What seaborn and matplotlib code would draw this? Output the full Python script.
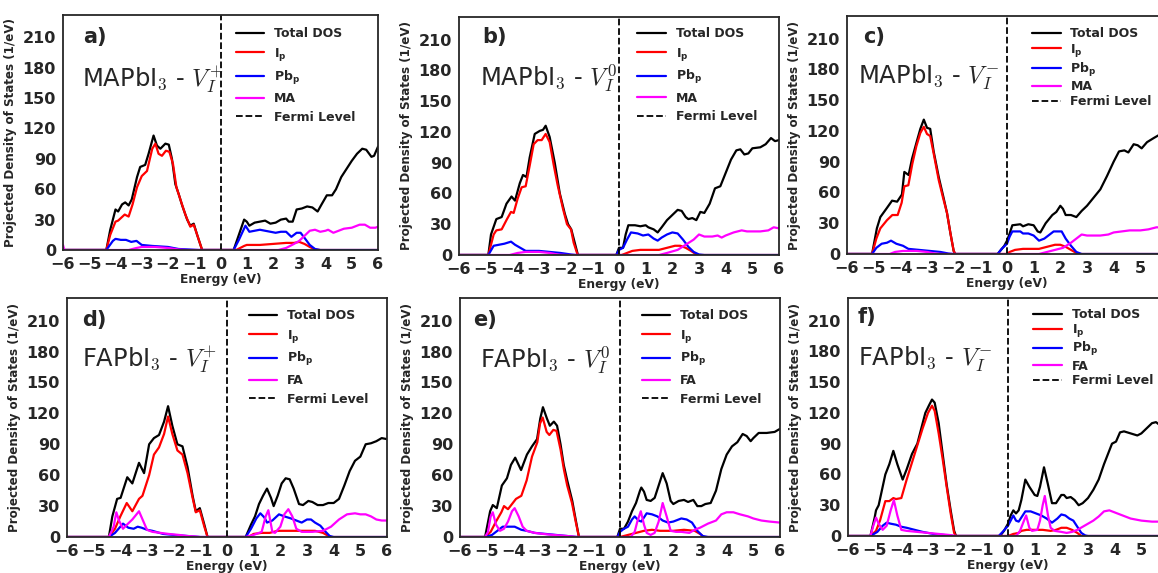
import matplotlib
matplotlib.use("Agg")
import matplotlib.pyplot as plt
import seaborn as sns

sns.set_style("ticks")
plt.rcParams['font.family'] = ['DejaVu Sans']
plt.rcParams['font.weight'] = 'bold'
plt.rcParams['axes.labelweight'] = 'bold'

# ---------------- data (energy eV, DOS 1/eV) ----------------
A_TOTAL = [(-6,0),(-4.35,0),(-4.2,20),(-4.0,40),(-3.9,38),(-3.75,45),(-3.63,47),(-3.5,44),(-3.38,50),(-3.18,72),(-3.06,82),(-2.87,84),(-2.74,95),(-2.55,113),(-2.42,103),(-2.29,100),(-2.1,105),(-1.97,104),(-1.85,90),(-1.72,65),(-1.59,55),(-1.46,44),(-1.27,30),(-1.15,24),(-1.02,26),(-0.89,15),(-0.7,0),(0.5,0),(0.7,15),(0.9,30),(1.0,28),(1.1,24),(1.3,27),(1.5,28),(1.7,29),(1.9,26),(2.1,27),(2.3,30),(2.5,31),(2.6,28),(2.75,28),(2.9,40),(3.1,41),(3.3,43),(3.5,42),(3.7,38),(3.85,45),(4.05,54),(4.25,54),(4.4,60),(4.6,72),(4.8,80),(5.0,88),(5.2,95),(5.4,100),(5.55,99),(5.75,92),(5.85,93),(6.0,102)]
A_IP = [(-6,0),(-4.35,0),(-4.2,15),(-4.0,28),(-3.9,29),(-3.65,35),(-3.5,33),(-3.35,45),(-3.18,62),(-3.0,73),(-2.8,78),(-2.6,100),(-2.48,105),(-2.36,95),(-2.23,93),(-2.08,98),(-1.95,97),(-1.81,85),(-1.68,62),(-1.53,50),(-1.34,35),(-1.15,23),(-1.02,25),(-0.89,15),(-0.7,0),(0.6,0),(0.9,4),(1.0,5),(1.5,5),(2.0,6),(2.5,7),(2.8,7),(3.0,8),(3.2,6),(3.4,3),(3.6,0.5),(3.8,0),(6,0)]
A_PB = [(-6,0),(-4.35,0),(-4.1,9),(-4.0,11),(-3.8,10),(-3.6,10),(-3.4,8),(-3.2,9),(-3.0,5),(-2.6,4),(-2.0,3),(-1.6,1),(-1.2,0.5),(-0.8,0),(0.5,0),(0.7,10),(0.95,24),(1.1,18),(1.3,19),(1.5,20),(1.7,19),(1.9,18),(2.1,17),(2.3,18),(2.5,18),(2.7,13),(2.9,17),(3.05,17),(3.2,12),(3.4,5),(3.6,1),(3.8,0),(6,0)]
A_MOL = [(-6,5),(-5.95,0),(-3.5,0),(-3.2,2),(-3.0,3),(-2.5,3),(-2.0,2),(-1.6,0.5),(-1.3,0),(2.2,0),(2.5,2),(2.8,6),(3.0,9),(3.2,14),(3.4,19),(3.6,20),(3.8,18),(4.0,19),(4.1,20),(4.3,17),(4.5,19),(4.7,21),(5.0,22),(5.3,25),(5.5,25),(5.7,22),(5.9,22),(6.0,23)]

B_TOTAL = [(-6,0),(-4.9,0),(-4.8,20),(-4.6,35),(-4.4,37),(-4.22,50),(-4.03,57),(-3.9,53),(-3.72,70),(-3.6,78),(-3.47,76),(-3.35,95),(-3.16,118),(-2.97,121),(-2.85,122),(-2.75,126),(-2.6,115),(-2.41,90),(-2.22,60),(-2.03,40),(-1.91,30),(-1.79,25),(-1.66,12),(-1.54,0),(-0.1,0),(0.0,7),(0.15,7),(0.25,20),(0.35,29),(0.6,29),(0.8,28),(1.0,29),(1.1,27),(1.3,25),(1.45,22),(1.6,27),(1.8,34),(2.0,39),(2.2,44),(2.35,43),(2.5,37),(2.6,35),(2.75,36),(2.9,34),(3.05,42),(3.2,41),(3.4,50),(3.6,65),(3.8,67),(4.0,80),(4.2,93),(4.4,102),(4.55,103),(4.7,98),(4.85,99),(5.0,104),(5.3,105),(5.5,108),(5.7,114),(5.85,111),(6.0,112)]
B_IP = [(-6,0),(-4.9,0),(-4.7,20),(-4.6,24),(-4.4,25),(-4.2,35),(-4.05,42),(-3.95,41),(-3.8,55),(-3.65,66),(-3.5,67),(-3.35,87),(-3.2,108),(-3.05,112),(-2.9,112),(-2.75,118),(-2.6,110),(-2.45,88),(-2.3,68),(-2.1,45),(-1.95,30),(-1.8,25),(-1.7,12),(-1.55,0),(0.1,0),(0.3,2),(0.5,4),(0.8,5),(1.2,5),(1.5,5),(1.8,7),(2.1,9),(2.3,9),(2.5,7),(2.7,4),(2.9,0.5),(3.0,0),(6,0)]
B_PB = [(-6,0),(-4.9,0),(-4.7,9),(-4.5,10),(-4.3,11),(-4.05,13),(-3.9,10),(-3.7,7),(-3.5,4),(-3.0,4),(-2.6,3),(-2.2,2),(-1.8,0.5),(-1.6,0),(-0.1,0),(0.0,5),(0.15,7),(0.3,15),(0.45,22),(0.7,21),(0.9,19),(1.1,20),(1.3,16),(1.45,14),(1.6,17),(1.8,20),(2.0,22),(2.2,21),(2.4,15),(2.6,8),(2.8,3),(3.0,0.5),(3.2,0),(6,0)]
B_MOL = [(-6,0),(-4.1,0),(-3.8,2),(-3.5,3),(-3.0,3),(-2.6,2),(-2.3,0.5),(-2.0,0),(1.5,0),(1.8,2),(2.2,5),(2.5,10),(2.8,15),(3.0,20),(3.2,18),(3.5,18),(3.7,19),(3.85,17),(4.0,19),(4.3,22),(4.6,24),(4.8,23),(5.0,23),(5.3,23),(5.6,24),(5.8,27),(6.0,26)]

C_TOTAL = [(-6,0),(-5.06,0),(-4.88,25),(-4.75,36),(-4.5,45),(-4.31,52),(-4.12,51),(-3.94,58),(-3.85,80),(-3.69,77),(-3.56,93),(-3.38,110),(-3.25,122),(-3.12,131),(-3.0,123),(-2.88,122),(-2.75,100),(-2.56,75),(-2.38,55),(-2.25,40),(-2.12,20),(-2.0,3),(-1.94,0),(-0.35,0),(-0.1,8),(0.0,13),(0.1,20),(0.2,28),(0.5,29),(0.6,27),(0.8,29),(1.0,28),(1.15,22),(1.25,21),(1.45,30),(1.7,38),(1.85,41),(2.0,47),(2.1,44),(2.2,38),(2.4,38),(2.6,36),(2.8,42),(3.0,47),(3.25,55),(3.5,63),(3.75,76),(4.0,90),(4.2,100),(4.4,101),(4.55,99),(4.75,107),(4.9,106),(5.05,103),(5.25,109),(5.5,113),(5.7,116),(5.85,118),(6.0,120)]
C_IP = [(-6,0),(-5.06,0),(-4.9,15),(-4.75,25),(-4.5,33),(-4.3,38),(-4.1,38),(-3.95,50),(-3.85,66),(-3.7,67),(-3.55,88),(-3.4,105),(-3.25,118),(-3.12,124),(-3.0,117),(-2.88,115),(-2.75,98),(-2.56,72),(-2.4,55),(-2.25,40),(-2.12,20),(-2.0,3),(-1.94,0),(0.0,0),(0.1,2),(0.3,4),(0.6,5),(1.0,5),(1.2,5),(1.5,7),(1.8,9),(2.0,9),(2.2,7),(2.4,4),(2.6,1),(2.7,0),(6,0)]
C_PB = [(-6,0),(-5.06,0),(-4.9,6),(-4.7,10),(-4.5,11),(-4.35,13),(-4.15,10),(-3.9,8),(-3.7,5),(-3.3,4),(-2.9,3),(-2.5,2),(-2.2,0.5),(-2.0,0),(-0.35,0),(-0.2,5),(0.0,10),(0.1,17),(0.2,22),(0.5,22),(0.6,20),(0.8,20),(1.0,18),(1.2,13),(1.4,15),(1.6,19),(1.75,22),(1.95,22),(2.05,22),(2.2,15),(2.4,8),(2.6,2),(2.8,0),(6,0)]
C_MOL = [(-6,0),(-4.4,0),(-4.2,2),(-3.9,3),(-3.4,3),(-3.0,2),(-2.7,0.5),(-2.4,0),(1.2,0),(1.5,2),(1.8,4),(2.1,6),(2.4,11),(2.6,15),(2.8,19),(3.0,18),(3.5,18),(3.8,19),(4.0,21),(4.3,22),(4.6,23),(5.0,23),(5.3,24),(5.6,26),(6.0,26)]

D_TOTAL = [(-6,0),(-4.43,0),(-4.3,20),(-4.12,37),(-3.99,38),(-3.74,58),(-3.55,52),(-3.3,72),(-3.11,62),(-2.92,90),(-2.74,96),(-2.55,99),(-2.36,112),(-2.21,127),(-2.05,108),(-1.86,90),(-1.67,88),(-1.48,68),(-1.29,40),(-1.17,25),(-1.02,28),(-0.85,12),(-0.73,0),(0.7,0),(0.9,12),(1.05,20),(1.2,32),(1.35,40),(1.5,47),(1.65,38),(1.75,30),(1.9,40),(2.05,52),(2.2,57),(2.35,56),(2.5,47),(2.7,32),(2.85,31),(3.05,35),(3.2,34),(3.4,31),(3.6,31),(3.8,33),(4.0,33),(4.2,37),(4.4,50),(4.6,64),(4.8,74),(5.0,78),(5.2,90),(5.4,91),(5.6,93),(5.8,96),(6.0,95)]
D_IP = [(-6,0),(-4.43,0),(-4.2,8),(-4.0,20),(-3.76,33),(-3.55,25),(-3.3,37),(-3.17,40),(-2.92,60),(-2.74,80),(-2.55,87),(-2.36,100),(-2.21,117),(-2.05,100),(-1.86,84),(-1.67,80),(-1.48,62),(-1.29,38),(-1.17,24),(-1.02,26),(-0.85,10),(-0.73,0),(0.8,0),(1.0,3),(1.3,4),(1.6,4),(1.9,6),(2.5,6),(3.0,6),(3.3,6),(3.6,4),(3.8,1),(3.9,0),(6,0)]
D_PB = [(-6,0),(-4.43,0),(-4.2,4),(-4.0,10),(-3.9,13),(-3.7,9),(-3.5,8),(-3.35,10),(-3.2,9),(-3.0,7),(-2.8,6),(-2.4,3),(-2.0,2),(-1.5,1),(-1.0,0),(0.7,0),(0.9,8),(1.1,18),(1.25,23),(1.4,19),(1.5,14),(1.7,16),(1.95,22),(2.15,20),(2.4,18),(2.6,16),(2.8,14),(3.0,17),(3.15,17),(3.3,14),(3.5,11),(3.7,5),(3.85,1),(4.0,0),(6,0)]
D_MOL = [(-6,0),(-4.43,0),(-4.25,10),(-4.15,24),(-4.05,16),(-3.9,8),(-3.75,12),(-3.55,17),(-3.3,25),(-3.15,16),(-3.0,7),(-2.8,5),(-2.5,4),(-2.2,3),(-1.8,2),(-1.5,1),(-1.2,0.5),(-1.0,0),(0.7,0),(1.0,2),(1.3,5),(1.45,20),(1.55,26),(1.7,5),(1.8,4),(2.0,10),(2.15,22),(2.3,27),(2.45,20),(2.6,8),(2.8,5),(3.2,5),(3.6,6),(3.9,10),(4.2,17),(4.5,22),(4.8,23),(5.0,22),(5.2,22),(5.4,20),(5.6,17),(5.8,16),(6.0,16)]

E_TOTAL = [(-6,0),(-5.06,0),(-4.87,25),(-4.77,31),(-4.62,28),(-4.43,50),(-4.24,57),(-4.09,70),(-3.93,77),(-3.71,65),(-3.49,80),(-3.3,88),(-3.11,95),(-2.99,115),(-2.89,126),(-2.74,115),(-2.63,108),(-2.48,112),(-2.36,108),(-2.23,90),(-2.11,70),(-1.98,55),(-1.79,35),(-1.67,18),(-1.54,0),(-0.1,0),(0.0,8),(0.15,8),(0.3,15),(0.45,25),(0.6,33),(0.75,45),(0.8,48),(0.9,44),(1.0,36),(1.15,35),(1.3,38),(1.45,50),(1.6,62),(1.75,52),(1.9,35),(2.0,32),(2.2,35),(2.4,36),(2.55,34),(2.75,36),(2.9,30),(3.05,30),(3.2,32),(3.4,33),(3.6,45),(3.8,66),(4.0,80),(4.2,88),(4.4,92),(4.6,100),(4.75,98),(4.9,93),(5.0,96),(5.2,101),(5.5,101),(5.8,102),(6.0,105)]
E_IP = [(-6,0),(-5.06,0),(-4.85,5),(-4.65,15),(-4.45,24),(-4.35,30),(-4.2,27),(-4.05,32),(-3.9,37),(-3.7,40),(-3.5,55),(-3.3,78),(-3.1,92),(-3.0,110),(-2.9,116),(-2.75,102),(-2.65,99),(-2.5,104),(-2.38,103),(-2.23,85),(-2.1,65),(-1.98,50),(-1.8,33),(-1.67,16),(-1.54,0),(0.0,0),(0.3,2),(0.6,4),(0.9,6),(1.2,7),(1.5,6),(2.0,6),(2.4,7),(2.8,6),(3.0,3),(3.15,0),(6,0)]
E_PB = [(-6,0),(-5.06,0),(-4.8,2),(-4.6,6),(-4.4,10),(-4.2,10),(-3.95,10),(-3.7,7),(-3.5,6),(-3.2,4),(-2.8,3),(-2.4,2),(-2.0,1),(-1.6,0),(-0.1,0),(0.0,5),(0.15,8),(0.3,10),(0.45,17),(0.55,20),(0.7,16),(0.8,15),(1.0,23),(1.2,22),(1.4,20),(1.6,16),(1.8,14),(2.0,15),(2.3,18),(2.5,17),(2.7,14),(2.9,6),(3.1,1),(3.3,0),(6,0)]
E_MOL = [(-6,0),(-5.06,0),(-4.95,5),(-4.85,20),(-4.77,24),(-4.65,12),(-4.5,6),(-4.35,8),(-4.2,15),(-4.05,25),(-3.95,28),(-3.8,20),(-3.65,10),(-3.5,6),(-3.2,4),(-2.9,3),(-2.5,2),(-2.0,1),(-1.6,0),(0.4,0),(0.55,5),(0.65,15),(0.78,25),(0.9,12),(1.0,4),(1.15,2),(1.3,4),(1.45,15),(1.6,33),(1.75,20),(1.9,6),(2.1,5),(2.3,5),(2.6,4),(2.8,7),(3.0,9),(3.3,13),(3.6,16),(3.8,22),(4.0,24),(4.25,24),(4.5,22),(4.8,20),(5.0,18),(5.3,16),(5.6,15),(6.0,14)]

F_TOTAL = [(-6,0),(-5.16,0),(-5.0,18),(-4.95,25),(-4.85,30),(-4.6,60),(-4.45,70),(-4.3,83),(-4.15,70),(-3.95,55),(-3.8,65),(-3.6,80),(-3.4,90),(-3.25,105),(-3.1,120),(-2.95,128),(-2.85,133),(-2.75,130),(-2.6,110),(-2.45,80),(-2.3,50),(-2.15,25),(-2.02,5),(-1.95,0),(-0.3,0),(-0.15,5),(0.0,12),(0.1,20),(0.2,25),(0.3,22),(0.4,25),(0.5,35),(0.65,55),(0.8,48),(1.0,40),(1.1,39),(1.2,48),(1.35,67),(1.5,50),(1.65,32),(1.8,32),(2.0,40),(2.1,40),(2.2,37),(2.35,38),(2.5,35),(2.65,30),(2.8,32),(3.0,37),(3.2,45),(3.4,55),(3.6,70),(3.75,80),(3.9,90),(4.05,92),(4.2,101),(4.35,102),(4.6,100),(4.85,98),(5.0,100),(5.2,105),(5.4,110),(5.55,111),(5.7,108),(6.0,112)]
F_IP = [(-6,0),(-5.16,0),(-4.95,5),(-4.8,15),(-4.6,34),(-4.45,34),(-4.3,37),(-4.2,36),(-4.0,37),(-3.8,55),(-3.5,80),(-3.2,105),(-3.0,120),(-2.85,127),(-2.75,122),(-2.6,100),(-2.45,75),(-2.3,48),(-2.15,22),(-2.02,3),(-1.95,0),(0.0,0),(0.2,2),(0.4,3),(0.5,5),(0.7,6),(1.0,6),(1.3,6),(1.6,5),(1.8,6),(2.0,8),(2.2,8),(2.4,6),(2.6,3),(2.75,0),(6,0)]
F_PB = [(-6,0),(-5.16,0),(-4.9,4),(-4.7,10),(-4.55,13),(-4.4,12),(-4.2,11),(-4.0,9),(-3.8,8),(-3.5,6),(-3.2,4),(-2.8,2),(-2.4,1),(-2.0,0),(-0.35,0),(-0.2,4),(0.0,10),(0.2,20),(0.3,15),(0.4,14),(0.55,20),(0.65,24),(0.85,24),(1.05,22),(1.25,20),(1.45,17),(1.65,13),(1.85,17),(2.0,21),(2.15,20),(2.3,17),(2.45,15),(2.6,9),(2.75,3),(2.9,0.5),(3.0,0),(6,0)]
F_MOL = [(-6,0),(-5.16,0),(-5.05,10),(-4.95,18),(-4.85,12),(-4.7,6),(-4.55,10),(-4.4,25),(-4.28,35),(-4.15,20),(-4.0,6),(-3.8,5),(-3.4,4),(-3.0,3),(-2.6,2),(-2.2,1),(-1.95,0),(0.3,0),(0.45,5),(0.6,15),(0.68,20),(0.8,8),(0.9,5),(1.1,6),(1.2,15),(1.3,30),(1.38,39),(1.5,20),(1.6,8),(1.75,5),(2.0,4),(2.2,3),(2.4,4),(2.6,6),(2.8,9),(3.0,12),(3.2,15),(3.4,19),(3.6,24),(3.8,25),(4.0,23),(4.3,20),(4.6,17),(5.0,15),(5.4,14),(5.8,14),(6.0,14)]

PANEL_LETTERS = ["a)", "b)", "c)", "d)", "e)", "f)"]
SYSTEMS = ["MAPbI", "MAPbI", "MAPbI", "FAPbI", "FAPbI", "FAPbI"]
CHARGES = ["+", "0", "-", "+", "0", "-"]
MOLECULES = ["MA", "MA", "MA", "FA", "FA", "FA"]
X_TICKS = [-6, -5, -4, -3, -2, -1, 0, 1, 2, 3, 4, 5, 6]
Y_TICKS = [0, 30, 60, 90, 120, 150, 180, 210]

# ---------------- layout ----------------
W, H = 1158, 573
fig = plt.figure(figsize=(W / 100, H / 100), dpi=100)

# axes boxes in pixels: left, right, top, bottom
boxes = [(63, 378, 15, 250), (459, 779, 17, 255), (847, 1167, 16, 254),
         (67, 387, 298, 537), (460, 780, 298, 537), (848, 1168, 298, 536)]
label_pos = [(0.063, 0.905), (0.072, 0.915), (0.05, 0.91), (0.047, 0.91), (0.04, 0.91), (0.03, 0.92)]
title_pos = [(0.06, 0.72), (0.066, 0.744), (0.034, 0.744), (0.047, 0.74), (0.063, 0.74), (0.031, 0.74)]
legend_anchor = [(0.52, 0.985), (0.53, 0.995), (0.55, 0.99), (0.54, 0.99), (0.54, 0.99), (0.55, 0.995)]
legend_space = [0.45, 0.45, 0.14, 0.45, 0.45, 0.1]

datasets = [(A_TOTAL, A_IP, A_PB, A_MOL), (B_TOTAL, B_IP, B_PB, B_MOL), (C_TOTAL, C_IP, C_PB, C_MOL),
            (D_TOTAL, D_IP, D_PB, D_MOL), (E_TOTAL, E_IP, E_PB, E_MOL), (F_TOTAL, F_IP, F_PB, F_MOL)]
colors = ["black", "#ff0000", "#0000ff", "#ff00ff"]

for i, (box, series) in enumerate(zip(boxes, datasets)):
    L, R, T, B = box
    ax = fig.add_axes([L / W, 1 - B / H, (R - L) / W, (B - T) / H])
    labels = ["Total DOS", r"I$_\mathbf{p}$", r"Pb$_\mathbf{p}$", MOLECULES[i]]
    for pts, col, lab in zip(series, colors, labels):
        sns.lineplot(x=[p[0] for p in pts], y=[p[1] for p in pts], ax=ax, color=col,
                     lw=1.6, label=lab, estimator=None, sort=False)
    for ln in ax.get_lines():
        ln.set_solid_joinstyle("round")
    ax.axvline(0, color="black", ls="--", lw=1.3, label="Fermi Level")
    ax.set_xlim(-6, 6)
    ax.set_ylim(0, 232)
    ax.set_xticks(X_TICKS)
    ax.set_xticklabels([f"{t}".replace("-", "\u2212") for t in X_TICKS])
    ax.set_yticks(Y_TICKS)
    ax.tick_params(direction="out", length=0, width=1.2, labelsize=11.5, pad=5)
    for lbl in ax.get_xticklabels() + ax.get_yticklabels():
        lbl.set_fontweight("bold")
    for sp in ax.spines.values():
        sp.set_linewidth(1.3)
        sp.set_visible(True)
    ax.set_xlabel("Energy (eV)", fontsize=8.8, fontweight="bold", labelpad=1)
    ax.set_ylabel("Projected Density of States (1/eV)", fontsize=8.6, fontweight="bold", labelpad=4)
    ax.legend(loc="upper left", bbox_to_anchor=legend_anchor[i], frameon=False,
              prop={"size": 9, "weight": "bold"}, handlelength=2.3, labelspacing=legend_space[i],
              handletextpad=0.8, borderaxespad=0.3)
    ax.text(label_pos[i][0], label_pos[i][1], PANEL_LETTERS[i], transform=ax.transAxes,
            fontsize=15, fontweight="bold", va="center", ha="left")
    ch = CHARGES[i]
    ax.text(title_pos[i][0], title_pos[i][1], SYSTEMS[i] + r"$_\mathsf{3}$ - $V_I^{" + ch + "}$",
            transform=ax.transAxes, fontsize=17.5, fontweight="normal", va="center", ha="left",
            math_fontfamily="cm")

fig.savefig("out.png", dpi=100)
